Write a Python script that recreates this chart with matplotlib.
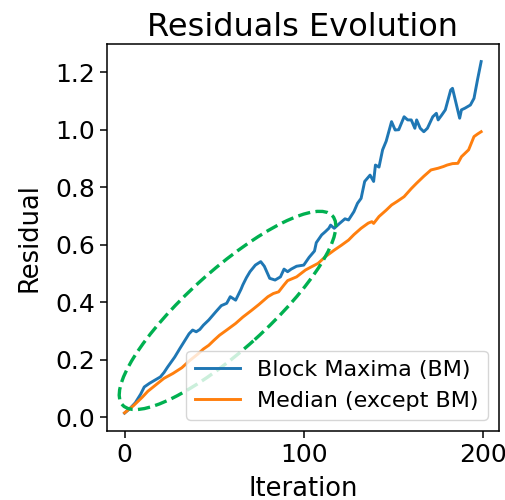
import matplotlib

matplotlib.use('Agg')
import matplotlib.pyplot as plt
from matplotlib.patches import Ellipse

# Block Maxima residuals
bm_iter = [0, 3, 6, 9, 11, 14, 17, 20, 22, 24, 28, 31, 34, 36, 38, 40, 42, 44, 47,
           51, 54, 57, 59, 62, 65, 66, 68, 70, 73, 76, 78, 81, 84, 87, 89, 91, 93,
           96, 100, 103, 106, 107, 110, 112, 114, 115, 117, 120, 123, 125, 128,
           130, 132, 134, 137, 139, 140, 142, 144, 146, 149, 151, 153, 156, 158,
           160, 162, 163, 165, 167, 169, 172, 174, 175, 177, 179, 182, 183, 185,
           187, 188, 190, 193, 195, 197, 199]
bm_resid = [0.014, 0.03, 0.05, 0.08, 0.105, 0.118, 0.129, 0.14, 0.155, 0.174, 0.209,
            0.24, 0.27, 0.29, 0.303, 0.297, 0.305, 0.32, 0.338, 0.367, 0.388, 0.396,
            0.419, 0.407, 0.445, 0.46, 0.485, 0.506, 0.529, 0.541, 0.525, 0.483,
            0.477, 0.488, 0.515, 0.506, 0.515, 0.525, 0.529, 0.556, 0.578, 0.607,
            0.634, 0.645, 0.657, 0.668, 0.657, 0.674, 0.69, 0.686, 0.715, 0.744,
            0.761, 0.82, 0.842, 0.82, 0.877, 0.87, 0.93, 0.96, 1.028, 0.999, 1.0,
            1.045, 1.034, 1.034, 1.005, 1.034, 1.005, 0.993, 1.005, 1.045, 1.057,
            1.034, 1.051, 1.069, 1.138, 1.144, 1.092, 1.04, 1.069, 1.075, 1.086,
            1.109, 1.175, 1.237]

# Median of the other blocks
med_iter = [0, 5, 10, 13, 18, 22, 27, 32, 36, 41, 44, 47, 50, 53, 57, 62, 66, 71,
            75, 80, 83, 86, 89, 91, 96, 101, 104, 108, 112, 117, 121, 125, 128, 132,
            136, 138, 139, 142, 146, 149, 152, 156, 160, 163, 167, 171, 175, 178,
            180, 183, 186, 188, 190, 192, 195, 197, 199]
med_resid = [0.015, 0.04, 0.07, 0.09, 0.115, 0.135, 0.152, 0.172, 0.195, 0.22,
             0.237, 0.25, 0.268, 0.285, 0.303, 0.326, 0.348, 0.372, 0.392, 0.419,
             0.43, 0.436, 0.46, 0.475, 0.488, 0.512, 0.522, 0.535, 0.558, 0.581,
             0.598, 0.616, 0.635, 0.657, 0.675, 0.68, 0.674, 0.698, 0.72, 0.738,
             0.75, 0.767, 0.795, 0.814, 0.838, 0.86, 0.866, 0.872, 0.877, 0.882,
             0.883, 0.906, 0.918, 0.93, 0.976, 0.985, 0.993]

labels = ['Block Maxima (BM)', 'Median (except BM)']

fig = plt.figure(figsize=(5.05, 5.0), dpi=100)
ax = fig.add_axes([0.2113, 0.1386, 0.7768, 0.7734])

ax.plot(bm_iter, bm_resid, color='#1f77b4', lw=2.1, label=labels[0])
ax.plot(med_iter, med_resid, color='#ff7f0e', lw=2.1, label=labels[1])

# highlight the early part of the run
ell = Ellipse((0.308, 0.311), width=0.725, height=0.205, angle=42.5,
              transform=ax.transAxes, fill=False, edgecolor='#00b050',
              lw=2.4, linestyle='--', zorder=3)
ax.add_patch(ell)

ax.set_title('Residuals Evolution', fontsize=23)
ax.set_xlabel('Iteration', fontsize=18.5, labelpad=7)
ax.set_ylabel('Residual', fontsize=18.5, labelpad=9)
ax.set_xticks([0, 100, 200])
ax.set_yticks([0.0, 0.2, 0.4, 0.6, 0.8, 1.0, 1.2])
ax.tick_params(labelsize=18, length=5, width=1.1)
for s in ax.spines.values():
    s.set_linewidth(1.1)

ax.legend(loc='lower right', fontsize=16)

fig.savefig('out.png', dpi=100)
